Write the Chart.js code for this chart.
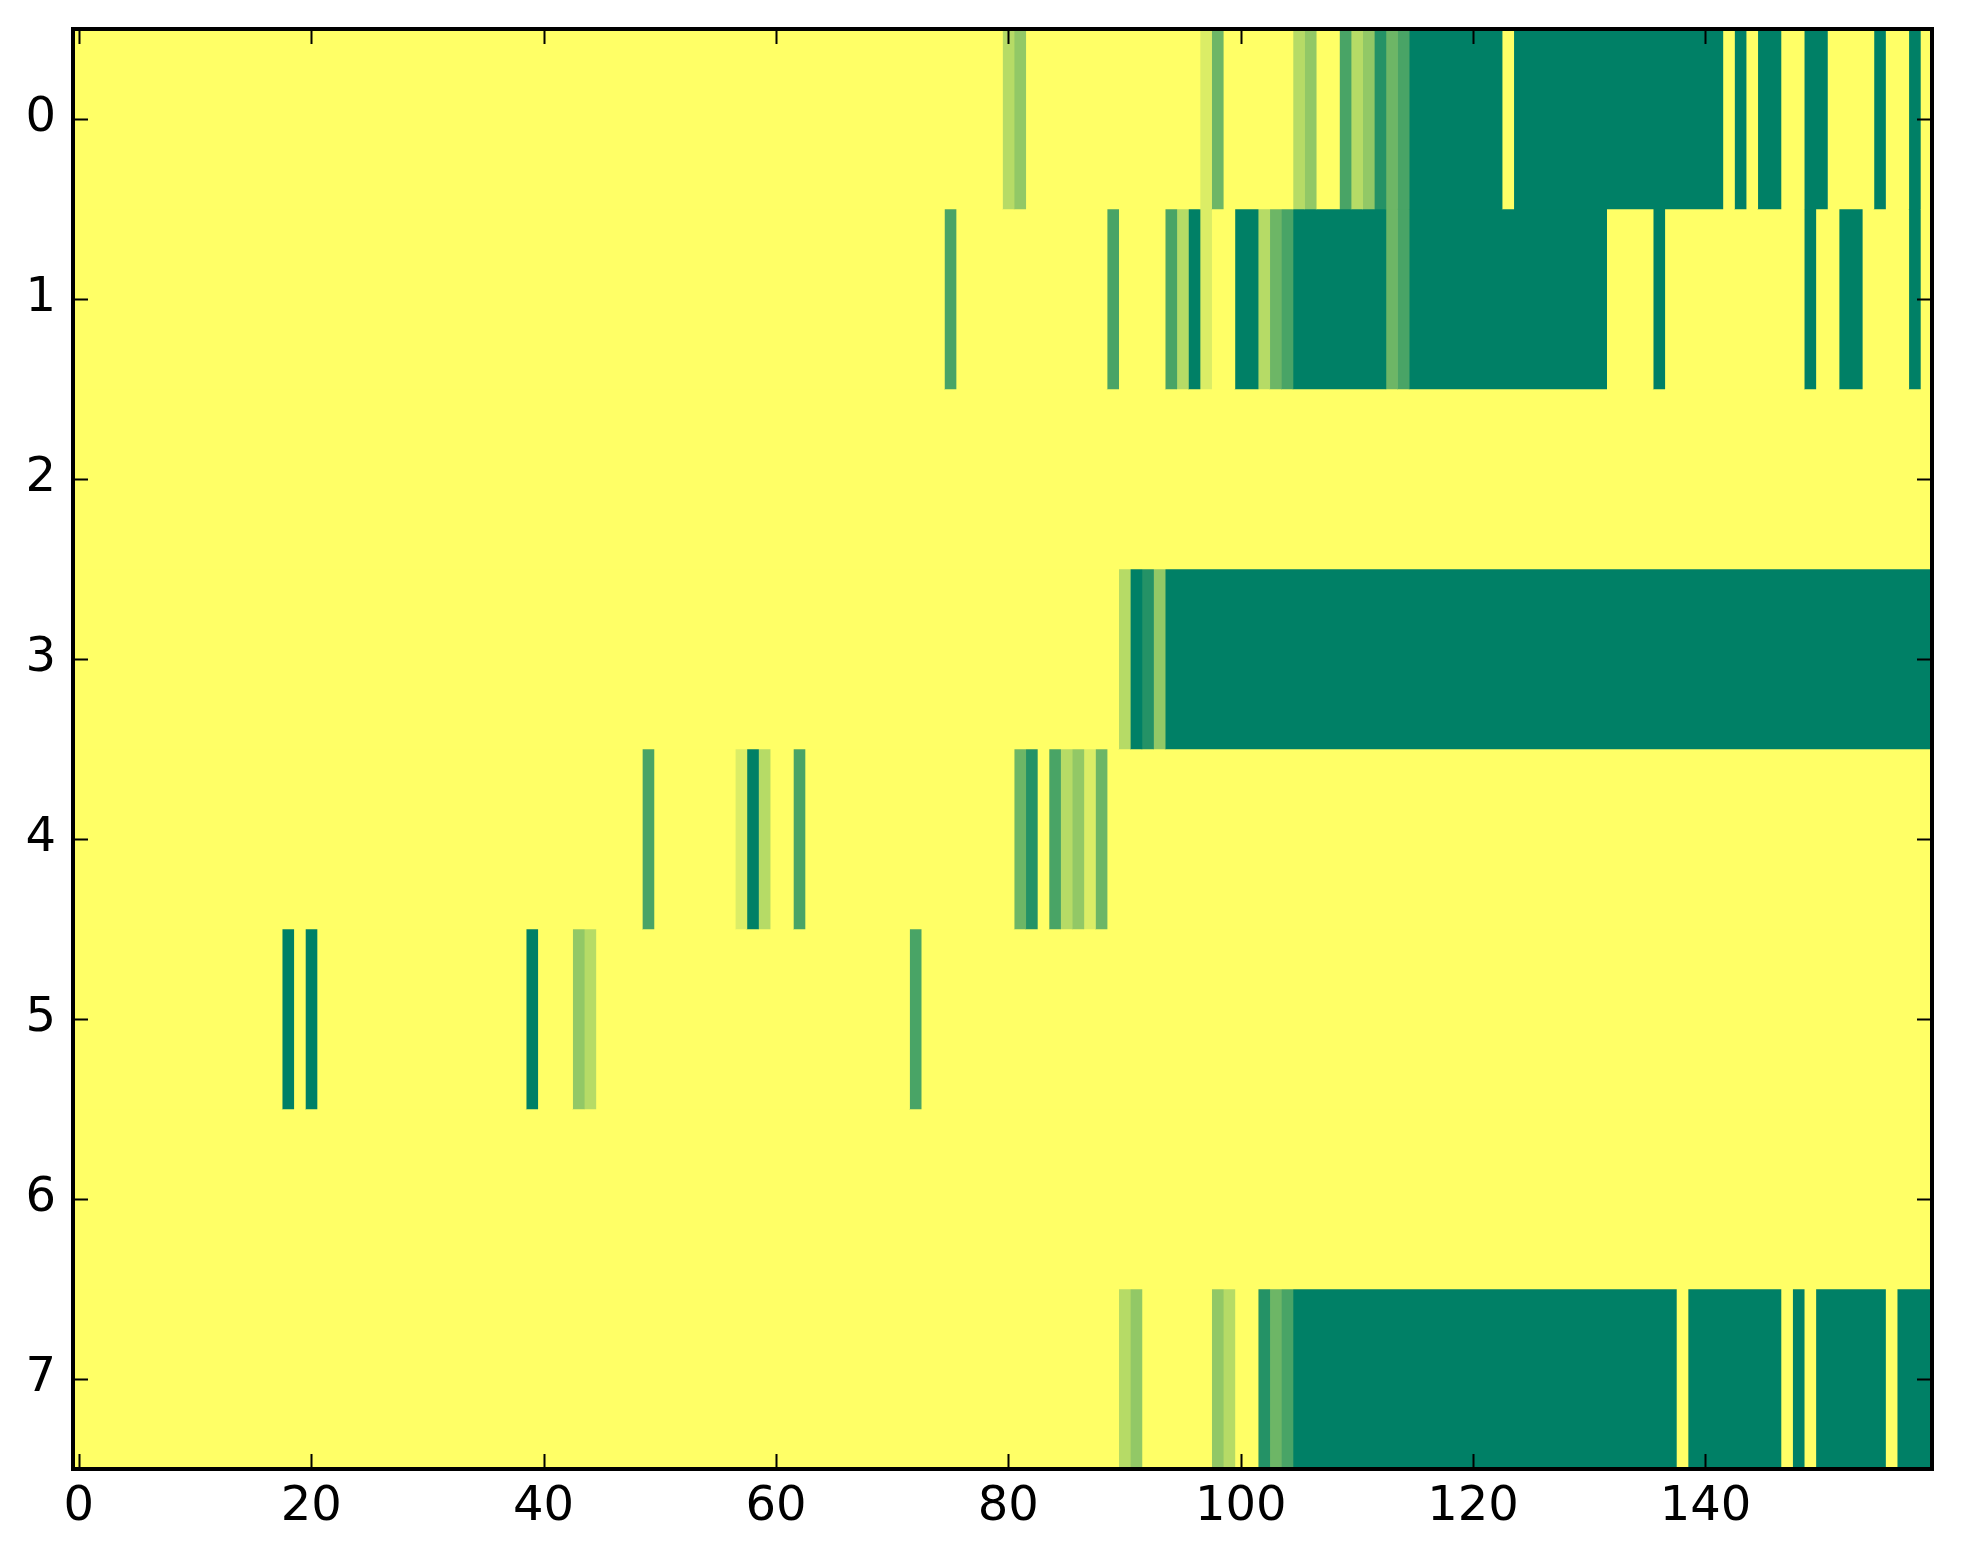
<!DOCTYPE html>
<html>
<head>
<meta charset="utf-8">
<script src="https://cdn.jsdelivr.net/npm/chart.js@4.4.1/dist/chart.umd.min.js"></script>
<style>
  html, body { margin: 0; padding: 0; background: #fff; }
  #wrap { width: 1963px; height: 1564px; }
</style>
</head>
<body>
<div id="wrap"><canvas id="heat"></canvas></div>
<script>
// one digit per column (0..159), in groups of ten
const row0 = "0000000000 0000000000 0000000000 0000000000 0000000000 0000000000 0000000000 0000000000 2300000000 0000000140 0000023005 2364577777 7770777777 7777777777 7707077007 7000070070"
const row1 = "0000000000 0000000000 0000000000 0000000000 0000000000 0000000000 0000000000 0000050000 0000000005 0000527100 7724577777 7774577777 7777777777 7700007000 0000000007 0077000070"
const row2 = "0000000000 0000000000 0000000000 0000000000 0000000000 0000000000 0000000000 0000000000 0000000000 0000000000 0000000000 0000000000 0000000000 0000000000 0000000000 0000000000"
const row3 = "0000000000 0000000000 0000000000 0000000000 0000000000 0000000000 0000000000 0000000000 0000000000 2763777777 7777777777 7777777777 7777777777 7777777777 7777777777 7777777777"
const row4 = "0000000000 0000000000 0000000000 0000000000 0000000005 0000000172 0050000000 0000000000 0460523140 0000000000 0000000000 0000000000 0000000000 0000000000 0000000000 0000000000"
const row5 = "0000000000 0000000070 7000000000 0000000007 0003200000 0000000000 0000000000 0050000000 0000000000 0000000000 0000000000 0000000000 0000000000 0000000000 0000000000 0000000000"
const row6 = "0000000000 0000000000 0000000000 0000000000 0000000000 0000000000 0000000000 0000000000 0000000000 0000000000 0000000000 0000000000 0000000000 0000000000 0000000000 0000000000"
const row7 = "0000000000 0000000000 0000000000 0000000000 0000000000 0000000000 0000000000 0000000000 0000000000 2300000032 0064577777 7777777777 7777777777 7777777707 7777777070 7777770777"

const rowLabels = ["0", "1", "2", "3", "4", "5", "6", "7"]
const xTicks = [0, 20, 40, 60, 80, 100, 120, 140]
const vmax = 7

const rows = [row0, row1, row2, row3, row4, row5, row6, row7].map((s) => s.replace(/ /g, "").split("").map(Number))
const nCols = rows[0].length

// summer_r colour map
function cellColor(v) {
  const t = Math.min(v / vmax, 1)
  const r = Math.round(255 * (1 - t))
  const g = Math.round(255 * (1 - t / 2))
  return "rgb(" + r + "," + g + ",102)"
}

// runs of equal cells become one floating bar each, so no seams
const datasets = []
rows.forEach((vals, r) => {
  let start = 0
  for (let c = 1; c <= vals.length; c++) {
    if (c === vals.length || vals[c] !== vals[start]) {
      datasets.push({
        data: rowLabels.map((_, i) => (i === r ? [start - 0.5, c - 0.5] : null)),
        backgroundColor: cellColor(vals[start]),
      })
      start = c
    }
  }
})

const font = { family: "DejaVu Sans", size: 48 }

const frame = {
  id: "frame",
  afterDraw(chart) {
    const { ctx, chartArea: a, scales } = chart
    ctx.save()
    ctx.strokeStyle = "#000"
    ctx.lineWidth = 2
    ctx.beginPath()
    xTicks.forEach((v) => {
      const px = Math.round(scales.x.getPixelForValue(v)) + 0.5
      ctx.moveTo(px, a.bottom); ctx.lineTo(px, a.bottom - 15)
      ctx.moveTo(px, a.top); ctx.lineTo(px, a.top + 15)
    })
    rowLabels.forEach((_, i) => {
      const py = Math.round(scales.y.getPixelForValue(i)) + 0.5
      ctx.moveTo(a.left, py); ctx.lineTo(a.left + 15, py)
      ctx.moveTo(a.right, py); ctx.lineTo(a.right - 15, py)
    })
    ctx.stroke()
    ctx.lineWidth = 4
    ctx.strokeRect(a.left, a.top, a.right - a.left, a.bottom - a.top)
    ctx.restore()
  },
}

new Chart(document.getElementById("heat"), {
  type: "bar",
  data: { labels: rowLabels, datasets },
  options: {
    indexAxis: "y",
    responsive: true,
    maintainAspectRatio: false,
    animation: false,
    layout: { padding: { top: 29, right: 31, left: 0, bottom: 0 } },
    plugins: { legend: { display: false }, tooltip: { enabled: false } },
    datasets: {
      bar: { grouped: false, barPercentage: 1, categoryPercentage: 1, borderWidth: 0, borderSkipped: false },
    },
    scales: {
      x: {
        type: "linear",
        min: -0.5,
        max: nCols - 0.5,
        grid: { display: false, drawTicks: false },
        border: { display: false },
        afterBuildTicks: (s) => { s.ticks = xTicks.map((v) => ({ value: v })) },
        afterFit: (s) => { s.height = 95 },
        ticks: { font, color: "#000", padding: 10, maxRotation: 0, autoSkip: false },
      },
      y: {
        grid: { display: false, drawTicks: false },
        border: { display: false },
        afterFit: (s) => {
          s.width = 73
          s.paddingTop = 0
          s.paddingBottom = 0
        },
        ticks: { font, color: "#000", padding: 17 },
      },
    },
  },
  plugins: [frame],
})
</script>
</body>
</html>
